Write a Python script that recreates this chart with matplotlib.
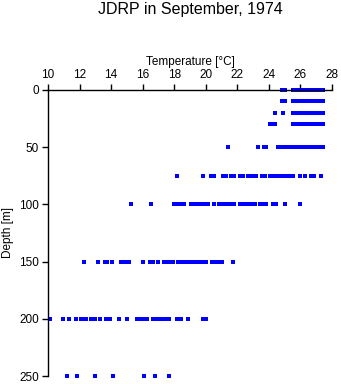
import matplotlib
matplotlib.use("Agg")
import matplotlib.pyplot as plt

plt.rcParams["font.family"] = "Liberation Sans"

# temperature readings [°C] for each sampling depth [m]
t_0 = [24.85, 25.0, 25.5, 25.7, 25.85, 26.0, 26.15, 26.3, 26.45, 26.6, 26.75,
       26.9, 27.05, 27.2, 27.35, 27.45]
t_10 = [24.85, 25.0, 25.5, 25.75, 25.9, 26.05, 26.25, 26.35, 26.5, 26.65,
        26.8, 26.95, 27.1, 27.25, 27.4, 27.45]
t_20 = [24.4, 24.9, 25.5, 25.75, 25.9, 26.05, 26.2, 26.35, 26.5, 26.65, 26.8,
        26.95, 27.1, 27.25, 27.4, 27.45]
t_30 = [24.05, 24.2, 24.4, 25.5, 25.75, 25.9, 26.05, 26.2, 26.35, 26.5, 26.65,
        26.8, 26.95, 27.1, 27.25, 27.4, 27.45]
t_50 = [21.4, 23.3, 23.7, 23.8, 24.55, 24.7, 24.85, 25.0, 25.15, 25.3, 25.45,
        25.6, 25.75, 25.9, 26.05, 26.2, 26.35, 26.5, 26.65, 26.8, 26.95, 27.1,
        27.25, 27.4]
t_75 = [18.2, 19.8, 20.3, 20.5, 21.1, 21.25, 21.6, 21.8, 22.2, 22.35, 22.7,
        22.9, 23.2, 23.55, 23.75, 24.05, 24.2, 24.35, 24.5, 24.65, 24.8, 24.95,
        25.1, 25.25, 25.4, 25.55, 26.0, 26.3, 26.65, 26.85, 27.3]
t_100 = [15.25, 16.55, 18.0, 18.15, 18.3, 18.45, 18.6, 19.05, 19.2, 19.35,
         19.5, 19.65, 19.8, 20.0, 20.15, 20.5, 20.85, 21.0, 21.2, 21.5, 21.65,
         21.8, 22.15, 22.3, 22.45, 22.6, 22.85, 23.0, 23.15, 23.45, 23.6, 23.8,
         24.25, 24.45, 25.0, 26.0]
t_150 = [12.3, 13.2, 13.6, 13.75, 14.05, 14.6, 14.8, 14.95, 15.15, 16.05,
         16.45, 16.65, 17.0, 17.35, 17.55, 17.75, 17.95, 18.25, 18.4, 18.6,
         18.85, 19.05, 19.2, 19.4, 19.55, 19.7, 19.85, 20.0, 20.4, 20.55, 20.7,
         20.85, 21.05, 21.7]
t_200 = [10.15, 10.95, 11.35, 11.8, 12.1, 12.25, 12.4, 12.7, 12.85, 13.0, 13.3,
         13.65, 13.8, 13.95, 14.5, 15.0, 15.65, 15.8, 15.95, 16.1, 16.3, 16.65,
         16.8, 16.95, 17.1, 17.25, 17.4, 17.55, 17.7, 18.2, 18.4, 18.9, 19.8,
         20.0]
t_250 = [11.2, 11.85, 13.0, 14.1, 16.1, 16.8, 17.7]

depths = [0, 10, 20, 30, 50, 75, 100, 150, 200, 250]
temps = [t_0, t_10, t_20, t_30, t_50, t_75, t_100, t_150, t_200, t_250]

fig = plt.figure(figsize=(3.41, 3.84), dpi=100)
ax = fig.add_axes([48 / 341, 8 / 384, 284 / 341, 286 / 384])

for d, t in zip(depths, temps):
    ax.plot(t, [d] * len(t), "s", color="#0000ff", markersize=2.2,
            markeredgewidth=0, clip_on=False)

ax.set_xlim(10, 28)
ax.set_ylim(250, 0)
ax.set_xticks(range(10, 29, 2))
ax.set_yticks([0, 50, 100, 150, 200, 250])

ax.xaxis.tick_top()
ax.xaxis.set_label_position("top")
ax.spines["right"].set_visible(False)
ax.spines["bottom"].set_visible(False)
for s in ("top", "left"):
    ax.spines[s].set_linewidth(1.0)
ax.tick_params(length=4.5, width=1.0, labelsize=8.5, pad=2)

ax.set_xlabel("Temperature [°C]", fontsize=8.5, labelpad=3)
ax.set_ylabel("Depth [m]", fontsize=8.5, labelpad=4)
fig.suptitle("JDRP in September, 1974", x=(48 + 332) / 2 / 341, y=0.995,
             fontsize=11.5, va="top")

plt.savefig("out.png", dpi=100)
